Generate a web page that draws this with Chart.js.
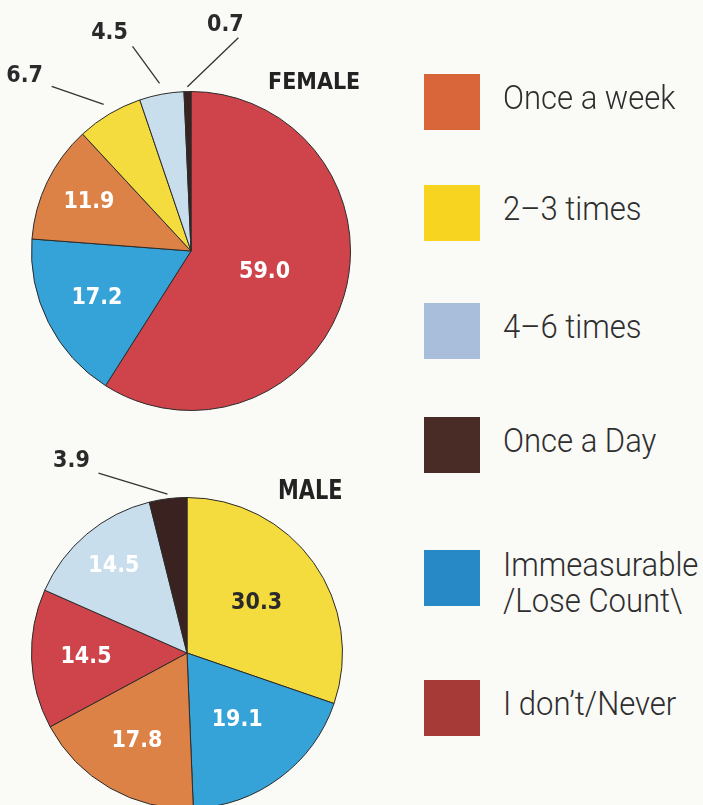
<!DOCTYPE html>
<html>
<head>
<meta charset="utf-8">
<script src="https://cdn.jsdelivr.net/npm/chart.js@4"></script>
<style>
  html, body { margin: 0; padding: 0; width: 703px; height: 805px; overflow: hidden; background: #fafaf7; }
  #female { position: absolute; left: 0; top: 0; }
  #male { position: absolute; left: 0; top: 440px; }
  .title { position: absolute; font-family: "DejaVu Sans Condensed", sans-serif; font-weight: bold; color: #222; font-size: 23px; line-height: 1; transform-origin: 0 0; }
  .legend-item { position: absolute; left: 424px; }
  .swatch { position: absolute; left: 0; top: 0; width: 56px; height: 56px; }
  .legend-item span { position: absolute; left: 79px; white-space: nowrap; font-family: Roboto, sans-serif; font-weight: 300; font-size: 33px; color: #2e2e2e; line-height: 36px; transform-origin: 0 0; transform: scaleX(0.94); }
</style>
</head>
<body>
<canvas id="female" width="380" height="420"></canvas>
<canvas id="male" width="380" height="380"></canvas>
<div class="title" style="left:268px; top:70px;">FEMALE</div>
<div class="title" style="left:278px; top:476px; font-size:27px; transform:scaleX(0.86);">MALE</div>
<div id="legend"></div>
<script>
const categories = ['Once a week', '2–3 times', '4–6 times', 'Once a Day', 'Immeasurable\n/Lose Count\\', 'I don’t/Never'];
const legendColors = ['#d8663a', '#f6d420', '#a9bedb', '#4a2c27', '#2789c6', '#a63a36'];

// slice order as drawn, clockwise from 12 o'clock
const femaleCats = ['I don’t/Never', 'Immeasurable\n/Lose Count\\', 'Once a week', '2–3 times', '4–6 times', 'Once a Day'];
const femaleValues = [59.0, 17.2, 11.9, 6.7, 4.5, 0.7];
const maleCats = ['2–3 times', 'Immeasurable\n/Lose Count\\', 'Once a week', 'I don’t/Never', '4–6 times', 'Once a Day'];
const maleValues = [30.3, 19.1, 17.8, 14.5, 14.5, 3.9];

const sliceColors = {
  'Once a week': '#dd8246',
  '2–3 times': '#f5dc3e',
  '4–6 times': '#c8deec',
  'Once a Day': '#3a2220',
  'Immeasurable\n/Lose Count\\': '#36a3d8',
  'I don’t/Never': '#cf434b'
};

const legendTops = [74, 185, 303, 417, 550, 680];
const legendTextTops = [6, 6, 6, 6, -3, 6];
const legend = document.getElementById('legend');
categories.forEach(function (c, i) {
  const item = document.createElement('div');
  item.className = 'legend-item';
  item.style.top = legendTops[i] + 'px';
  const sw = document.createElement('div');
  sw.className = 'swatch';
  sw.style.background = legendColors[i];
  const txt = document.createElement('span');
  txt.style.top = legendTextTops[i] + 'px';
  txt.innerHTML = c.replace('\n', '<br>');
  item.appendChild(sw);
  item.appendChild(txt);
  legend.appendChild(item);
});

const pieLabels = {
  id: 'pieLabels',
  afterDatasetsDraw(chart, args, opts) {
    const ctx = chart.ctx;
    const meta = chart.getDatasetMeta(0);
    const values = chart.data.datasets[0].data;
    ctx.save();
    ctx.font = 'bold 23px "DejaVu Sans Condensed", sans-serif';
    ctx.textAlign = 'center';
    ctx.textBaseline = 'middle';
    meta.data.forEach(function (arc, i) {
      const p = arc.getProps(['x', 'y', 'startAngle', 'endAngle', 'outerRadius'], true);
      const mid = (p.startAngle + p.endAngle) / 2;
      const text = values[i].toFixed(1);
      const call = opts.callouts[i];
      if (call) {
        const sx = p.x + Math.cos(mid) * p.outerRadius * call.r;
        const sy = p.y + Math.sin(mid) * p.outerRadius * call.r;
        const ex = sx + call.dx, ey = sy + call.dy;
        ctx.strokeStyle = '#333';
        ctx.lineWidth = 1.3;
        ctx.beginPath();
        ctx.moveTo(sx, sy);
        ctx.lineTo(ex, ey);
        ctx.stroke();
        ctx.fillStyle = '#2a2a2a';
        ctx.fillText(text, ex + call.tx, ey + call.ty);
      } else {
        const f = opts.radius[i];
        ctx.fillStyle = opts.dark.includes(i) ? '#2a2a2a' : '#ffffff';
        ctx.fillText(text, p.x + Math.cos(mid) * p.outerRadius * f, p.y + Math.sin(mid) * p.outerRadius * f);
      }
    });
    ctx.restore();
  }
};

function makePie(id, cats, values, padding, labelOpts) {
  return new Chart(document.getElementById(id), {
    type: 'pie',
    data: {
      labels: cats,
      datasets: [{
        data: values,
        backgroundColor: cats.map(c => sliceColors[c]),
        borderColor: '#2b2b2b',
        borderWidth: 1
      }]
    },
    options: {
      responsive: false,
      animation: false,
      layout: { padding: padding },
      plugins: {
        legend: { display: false },
        tooltip: { enabled: false },
        pieLabels: labelOpts
      }
    },
    plugins: [pieLabels]
  });
}

makePie('female', femaleCats, femaleValues,
  { left: 31, top: 91, right: 29, bottom: 9 },
  {
    radius: [0.48, 0.66, 0.71],
    dark: [],
    callouts: {
      3: { r: 1.07, dx: -52, dy: -18, tx: -27, ty: -10 },
      4: { r: 1.07, dx: -27, dy: -37, tx: -23, ty: -13 },
      5: { r: 1.03, dx: 51, dy: -49, tx: -13, ty: -13 }
    }
  });

makePie('male', maleCats, maleValues,
  { left: 31, top: 57, right: 37, bottom: 11 },
  {
    radius: [0.55, 0.54, 0.65, 0.65, 0.73],
    dark: [0],
    callouts: {
      5: { r: 1.03, dx: -69, dy: -21, tx: -27, ty: -12 }
    }
  });
</script>
</body>
</html>
